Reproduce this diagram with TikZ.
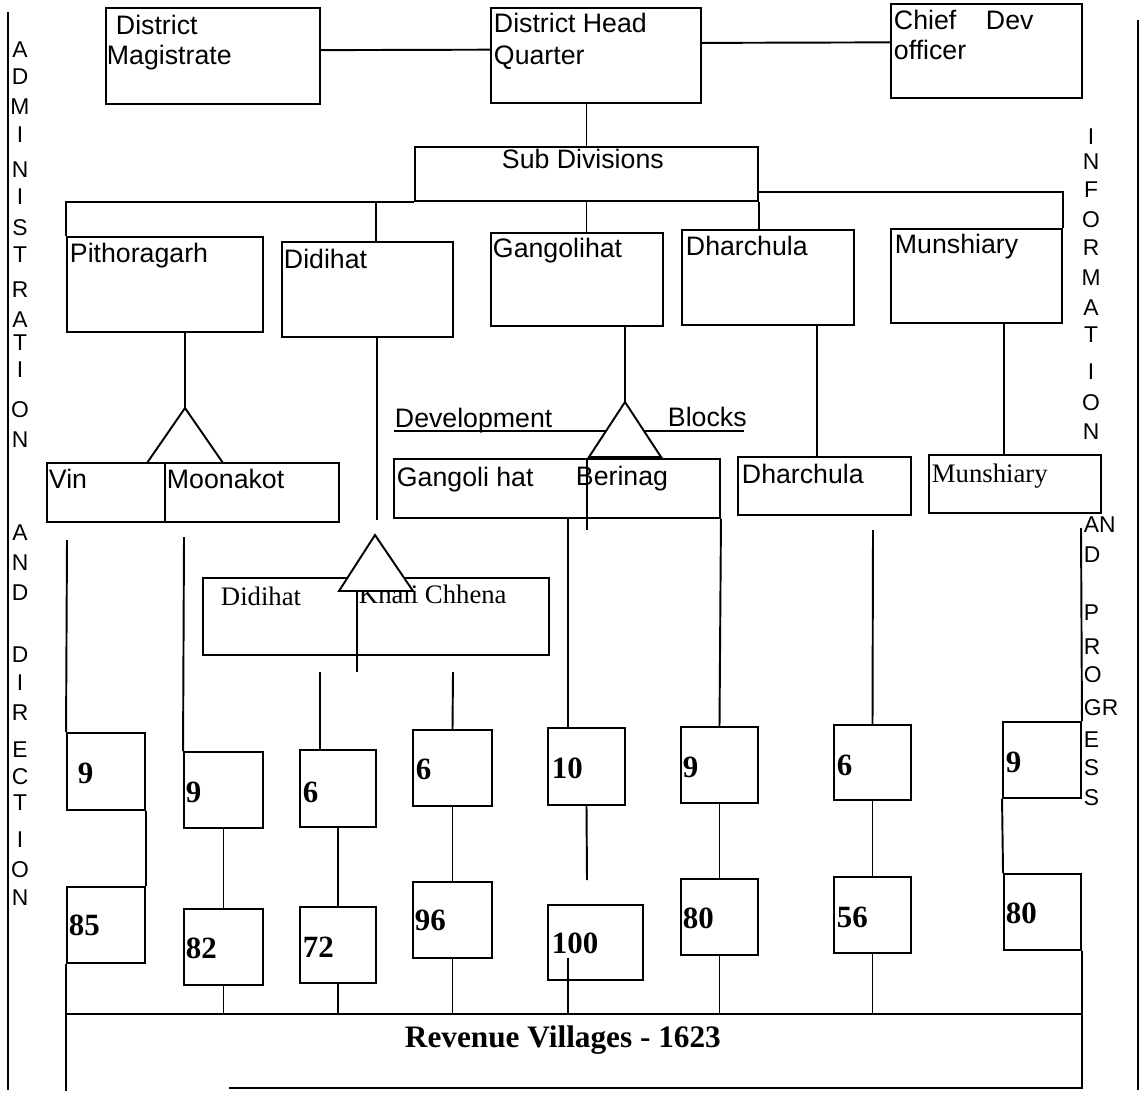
\documentclass[tikz,border=0pt]{standalone}
\usepackage{fontspec}
\setmainfont{Liberation Sans}
\newfontfamily\serifface{Liberation Serif}
\usetikzlibrary{fit, calc}

\begin{document}
\begin{tikzpicture}[
  x=0.02cm, y=-0.02cm, line width=1.1pt,
  ubox/.style={draw, inner sep=0pt, fit={#1}},
  uopen/.style={inner sep=0pt, fit={#1}},
  lbl/.style={anchor=base west, inner sep=0pt, font=\fontsize{15.2}{17}\selectfont},
  slbl/.style={anchor=base west, inner sep=0pt, font=\serifface\fontsize{15.2}{17}\selectfont},
  num/.style={anchor=base west, inner sep=0pt, font=\serifface\bfseries\fontsize{17.6}{20}\selectfont},
  side/.style={inner sep=0pt, font=\fontsize{13}{15}\selectfont},
  tri/.style={draw, fill=white, line join=miter}
]
\useasboundingbox (0,0) rectangle (1142,1095);

  % Side borders
  \draw[line width=1.6pt] (8,12) -- (8,1090);
  \draw[line width=1.6pt] (1138,20) -- (1138,1090);
  \foreach \ch/\yy in {A/50, D/77, M/107, I/135, N/170, I/197, S/228, T/255, R/290, A/320, T/343, I/370, O/410, N/440,
                       A/533, N/563, D/593, D/655, I/683, R/713, E/750, C/777, T/803, I/840, O/870, N/898}
    \node[side] (adm\yy) at (20,\yy) {\ch};
  \foreach \ch/\yy in {I/137, N/162, F/190, O/220, R/248, M/278, A/308, T/335, I/372, O/403, N/432}
    \node[side] (inf\yy) at (1091,\yy) {\ch};
  \foreach \ch/\yy in {AN/525, D/555, P/613, R/647, O/675, GR/708, E/740, S/768, S/798}
    \node[side, anchor=west] (prg\yy) at (1083,\yy) {\ch};

  % Top row
  \node[ubox={(106,8) (320,104)}] (dm) {};
  \node[ubox={(491,8) (701,103)}] (dhq) {};
  \node[ubox={(891,4) (1082,98)}] (cdo) {};
  \node[lbl] (dmA) at (115,35) {District};
  \node[lbl] (dmB) at (106,65) {Magistrate};
  \node[lbl] (dhqA) at (493,33) {District Head};
  \node[lbl] (dhqB) at (493,65) {Quarter};
  \node[lbl] (cdoA) at (893,30) {Chief};
  \node[lbl] (cdoB) at (985,30) {Dev};
  \node[lbl] (cdoC) at (893,60) {officer};

  \draw ($(dm.north east)!.44!(dm.south east)$) -- ($(dhq.north west)!.44!(dhq.south west)$);
  \draw ($(dhq.north east)!.37!(dhq.south east)$) -- ($(cdo.north west)!.41!(cdo.south west)$);

  % Sub divisions
  \node[ubox={(415,147) (758,201)}] (subdiv) {};
  \node[lbl] (subdivT) at (501,168) {Sub Divisions};
  \draw (subdiv.north |- dhq.south) -- (subdiv.north);

  \node[ubox={(67,237) (263,332)}] (pith) {};
  \node[ubox={(282,242) (453,337)}] (didi) {};
  \node[ubox={(491,233) (663,326)}] (gang) {};
  \node[ubox={(682,230) (854,325)}] (dhar) {};
  \node[ubox={(891,229) (1062,323)}] (muns) {};
  \node[lbl] (pithT) at (69,262) {Pithoragarh};
  \node[lbl] (didiT) at (283,268) {Didihat};
  \node[lbl] (gangT) at (492,257) {Gangolihat};
  \node[lbl] (dharT) at (685,255) {Dharchula};
  \node[lbl] (munsT) at (894,253) {Munshiary};

  \coordinate (didiTop) at ($(didi.north west)!0.55!(didi.north east)$);
  \draw (subdiv.south west) -| (pith.north west);
  \draw (didiTop |- subdiv.south) -- (didiTop);
  \draw (subdiv.south) -- (subdiv.south |- gang.north);
  \draw ($(subdiv.north east)!.83!(subdiv.south east)$) -| (muns.north east);
  \draw (subdiv.south east) -- (subdiv.south east |- dhar.north);

  % Development blocks
  \coordinate (apxP) at (185,408);
  \coordinate (apxD) at (375,535);
  \coordinate (apxG) at (625,402);
  \coordinate (didiEnd) at (377,520);
  \coordinate (dkDiv) at (357,672);
  \coordinate (berEnd) at (587,530);
  \coordinate (devL) at (394,431);
  \coordinate (devR) at (744,431);
  \coordinate (dharDn) at ($(dhar.south west)!0.78!(dhar.south east)$);
  \coordinate (munsDn) at ($(muns.south west)!0.66!(muns.south east)$);

  \node[ubox={(47,463) (165,522)}] (bvin) {};
  \node[ubox={(165,463) (339,522)}] (bmoon) {};
  \node[ubox={(203,578) (549,655)}] (bdk) {};
  \node[ubox={(394,459) (720,518)}] (bgb) {};
  \node[ubox={(738,457) (911,515)}] (bdh) {};
  \node[ubox={(929,455) (1101,513)}] (bmu) {};

  \node[lbl] (bvinT) at (48,488) {Vin};
  \node[lbl] (bmoonT) at (166,488) {Moonakot};
  \node[slbl] (bdkA) at (220,605) {Didihat};
  \node[slbl] (bdkB) at (358,603) {Khali Chhena};
  \node[lbl] (bgbA) at (396,486) {Gangoli hat};
  \node[lbl] (bgbB) at (575,485) {Berinag};
  \node[lbl] (bdhT) at (741,483) {Dharchula};
  \node[slbl] (bmuT) at (931,482) {Munshiary};
  \node[lbl] (devA) at (394,427) {Development};
  \node[lbl] (devB) at (667,426) {Blocks};

  \draw (apxP |- pith.south) -- (apxP);
  \draw (didiEnd |- didi.south) -- (didiEnd);
  \draw (apxG |- gang.south) -- (apxG);
  \draw (dharDn) -- (dharDn |- bdh.north);
  \draw (munsDn) -- (munsDn |- bmu.north);
  \draw (dkDiv |- bdk.north) -- (dkDiv);
  \draw (berEnd |- bgb.north) -- (berEnd);
  \draw (devL) -- (devR);

  \draw[tri] (apxP) -- (147,463) -- (223,463) -- cycle;
  \draw[tri] (apxD) -- (339,591) -- (413,591) -- cycle;
  \draw[tri] (apxG) -- (589,457) -- (661,457) -- cycle;

  % Village counts
  \node[ubox={(67,733) (145,810)}] (n9a) {};
  \node[ubox={(67,887) (145,963)}] (n85) {};
  \node[ubox={(184,752) (263,828)}] (n9b) {};
  \node[ubox={(184,909) (263,985)}] (n82) {};
  \node[ubox={(300,750) (376,827)}] (n6a) {};
  \node[ubox={(300,907) (376,983)}] (n72) {};
  \node[ubox={(413,730) (492,806)}] (n6b) {};
  \node[ubox={(413,882) (492,958)}] (n96) {};
  \node[ubox={(548,728) (625,805)}] (n10) {};
  \node[ubox={(548,905) (643,980)}] (n100) {};
  \node[ubox={(681,727) (758,803)}] (n9c) {};
  \node[ubox={(681,879) (758,955)}] (n80a) {};
  \node[ubox={(834,725) (911,800)}] (n6c) {};
  \node[ubox={(834,877) (911,953)}] (n56) {};
  \node[ubox={(1003,722) (1081,798)}] (n9d) {};
  \node[ubox={(1004,874) (1081,950)}] (n80b) {};

  \node[num] (t9a) at (77,783) {9};
  \node[num] (t85) at (68,935) {85};
  \node[num] (t9b) at (185,802) {9};
  \node[num] (t82) at (185,958) {82};
  \node[num] (t6a) at (302,802) {6};
  \node[num] (t72) at (302,957) {72};
  \node[num] (t6b) at (415,779) {6};
  \node[num] (t96) at (414,930) {96};
  \node[num] (t10) at (551,778) {10};
  \node[num] (t100) at (551,953) {100};
  \node[num] (t9c) at (682,777) {9};
  \node[num] (t80a) at (682,928) {80};
  \node[num] (t6c) at (836,775) {6};
  \node[num] (t56) at (836,927) {56};
  \node[num] (t9d) at (1005,772) {9};
  \node[num] (t80b) at (1005,923) {80};

  % Revenue villages
  \node[uopen={(67,1015) (1081,1087)}] (rev) {};
  \draw ($(rev.south west)+(163,0)$) -- (rev.south east) -- (rev.north east) -- (rev.north west) -- ($(rev.south west)+(0,3)$);
  \node[num, font=\serifface\bfseries\fontsize{17.8}{20}\selectfont] (revT) at (404,1047) {Revenue Villages - 1623};

  \coordinate (vinTop) at (67,540);
  \coordinate (moonTop) at (184,537);
  \coordinate (n6aTop) at (320,672);
  \coordinate (n6bTop) at (453,672);
  \coordinate (gangDn) at ($(bgb.south west)!0.534!(bgb.south east)$);
  \coordinate (n10End) at (587,880);
  \coordinate (n100In) at (568,958);
  \coordinate (n6cTop) at (873,530);
  \coordinate (n9dTop) at (1081,528);

  \draw (vinTop) -- (n9a.north west);
  \draw (n9a.south east) -- (n85.north east);
  \draw (n85.south west) -- (rev.north west);
  \draw (moonTop) -- (n9b.north west);
  \draw (n9b.south) -- (n82.north);
  \draw (n82.south) -- (n82.south |- rev.north);
  \draw (n6aTop) -- (n6aTop |- n6a.north);
  \draw (n6a.south) -- (n72.north);
  \draw (n72.south) -- (n72.south |- rev.north);
  \draw (n6bTop) -- (n6b.north);
  \draw (n6b.south) -- (n96.north);
  \draw (n96.south) -- (n96.south |- rev.north);
  \draw (gangDn) -- (gangDn |- n10.north);
  \draw (n10.south) -- (n10End);
  \draw (n100In) -- (n100In |- rev.north);
  \draw (bgb.south east) -- (n9c.north);
  \draw (n9c.south) -- (n80a.north);
  \draw (n80a.south) -- (n80a.south |- rev.north);
  \draw (n6cTop) -- (n6c.north);
  \draw (n6c.south) -- (n56.north);
  \draw (n56.south) -- (n56.south |- rev.north);
  \draw (n9dTop) -- (n9d.north east);
  \draw (n9d.south west) -- (n80b.north west);
  \draw (n80b.south east) -- (rev.north east);

\end{tikzpicture}
\end{document}
